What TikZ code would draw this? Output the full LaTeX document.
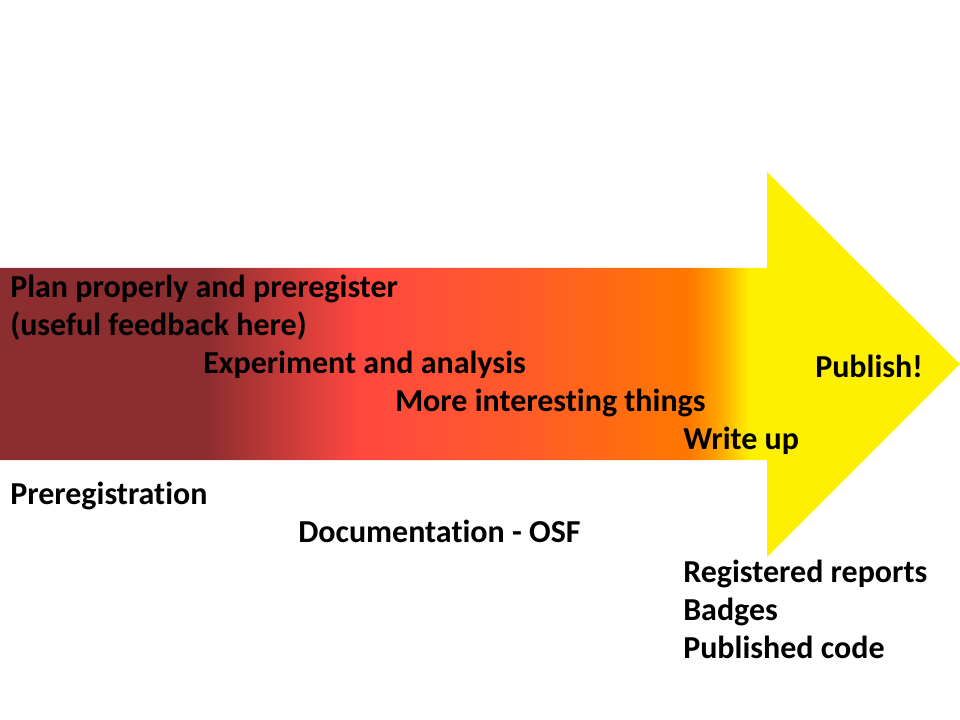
\documentclass[tikz,border=0pt]{standalone}
\usepackage{fontspec}
\setmainfont{Carlito}[RawFeature={-liga}]
\definecolor{maroon}{RGB}{140,45,48}
\definecolor{hotred}{RGB}{255,72,64}
\definecolor{redorange}{RGB}{255,92,40}
\definecolor{deeporange}{RGB}{255,120,0}
\definecolor{amber}{RGB}{255,168,0}
\definecolor{sun}{RGB}{255,239,0}
% left-to-right colour ramp; the central 25bp--75bp band spans the whole arrow
\pgfdeclarehorizontalshading{timeline}{100bp}{%
  color(0bp)=(maroon); color(25bp)=(maroon); color(35.7bp)=(maroon);
  color(43.75bp)=(hotred); color(52.6bp)=(redorange);
  color(60.9bp)=(deeporange); color(62.5bp)=(amber);
  color(64bp)=(sun); color(75bp)=(sun); color(100bp)=(sun)}
\tikzset{
  label/.style={anchor=base west, inner sep=0pt, text=black,
    font=\fontsize{24}{28.8}\selectfont\bfseries},
}
\begin{document}
\begin{tikzpicture}[x=0.75pt,y=-0.75pt]
\useasboundingbox (0,0) rectangle (960,720);
% the big arrow
\shade[shading=timeline]
  (0,268) -- (767,268) -- (767,172) -- (960,364) -- (767,557)
  -- (767,460) -- (0,460) -- cycle;
% stages along the arrow
\node[label] (plan1) at (10,297) {Plan properly and preregister};
\node[label] (plan2) at (10,335) {(useful feedback here)};
\node[label] (exp) at (203,373) {Experiment and analysis};
\node[label] (more) at (395,411) {More interesting things};
\node[label] (write) at (683,449) {Write up};
\node[label] (pub) at (815,377) {Publish!};
% tools below the arrow
\node[label] (prereg) at (10,504) {Preregistration};
\node[label] (doc) at (298,542) {Documentation - OSF};
\node[label] (rr) at (683,582) {Registered reports};
\node[label] (badges) at (683,620) {Badges};
\node[label] (code) at (683,658) {Published code};
\end{tikzpicture}
\end{document}
